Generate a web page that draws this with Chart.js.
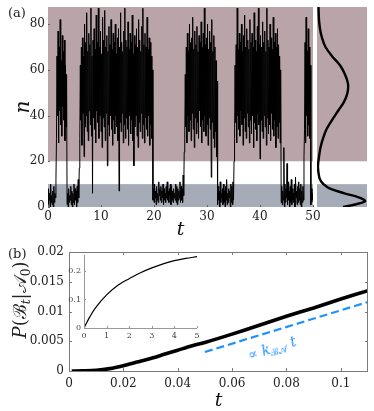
<!DOCTYPE html>
<html>
<head>
<meta charset="utf-8">
<script src="https://cdn.jsdelivr.net/npm/chart.js@4.4.0/dist/chart.umd.min.js"></script>
<style>
  body { margin: 0; background: #fff; }
  #wrap { position: relative; width: 374px; height: 411px; overflow: hidden; font-family: 'DejaVu Serif', serif; color: #222; }
  canvas { position: absolute; }
  .lbl { position: absolute; white-space: nowrap; line-height: 1; }
  .lbl sub { font-size: 0.68em; vertical-align: -0.3em; line-height: 0; }
</style>
</head>
<body>
<div id="wrap">
  <canvas id="trace" width="330" height="240" style="left:0;top:0"></canvas>
  <canvas id="hist" width="50" height="200" style="left:317px;top:7px"></canvas>
  <canvas id="prob" width="374" height="171" style="left:0;top:240px"></canvas>
  <canvas id="inset" width="136" height="95" style="left:68px;top:250px"></canvas>
  <div class="lbl" style="left:8px;top:6px;font-size:13px">(a)</div>
  <div class="lbl" style="left:8px;top:247px;font-size:13px">(b)</div>
  <div class="lbl" style="left:20px;top:300px;font-size:18px;transform:translate(-50%,-50%) rotate(-90deg)"><i>P</i>(ℬ<sub><i>t</i></sub>|𝒜<sub>0</sub>)</div>
  <div class="lbl" style="left:272px;top:348px;font-size:14px;color:#1e90ff;transform:translate(-50%,-50%) rotate(-17deg)">∝ <i>k</i><sub>ℬ𝒜</sub> <i>t</i></div>
</div>
<script>
// ---- panel (a): trajectory n(t), sampled every 0.2 as (low, high) excursions ----
const traceDt = 0.2;
const nLow = [
  1, 3, 0, 2, 1, 0, 2, 4,                                   // A, t 0-1.4
  30, 40, 28, 42, 36, 31, 44, 38, 29, 35,                   // B
  1, 0, 2, 3, 1, 0, 2, 1, 3, 0, 2, 4,                       // A
  30, 38, 27, 41, 22, 35, 40, 33, 29, 42, 36, 31, 6, 39, 34, 28, 42, 37, 30, 40,
  33, 26, 39, 35, 29, 41, 18, 36, 31, 40, 34, 27, 38, 32, 40, 35, 29, 7, 37, 33,
  41, 28, 36, 30, 39, 34, 27, 40, 32, 38, 29, 18, 35, 40, 31, 26, 37, 33, 41, 30,
  36, 28, 39, 34, 31, 40, 27, 36, 30,                       // B, t 6-19.6
  3, 2, 4, 1, 3, 2, 5, 3, 2, 4, 1, 3, 2, 4, 3, 2, 5, 1, 3, 2, 4, 3, 2, 1, 3, 4, 2, 3, 2, 5,
  30, 35, 28, 40, 33, 38, 29, 41, 34, 26, 39, 32, 37, 30, 42, 35, 28, 38, 33, 40,
  31, 36, 27, 39, 34, 13, 37, 30, 26, 33, 22,               // B, t 25.8-31.8
  1, 3, 0, 2, 4, 1, 2, 0, 3, 1, 2, 4, 0, 2, 1, 3,           // A
  30, 37, 28, 40, 34, 31, 42, 36, 27, 39, 33, 30, 41, 35, 28, 38, 32, 40, 26, 37,
  34, 29, 41, 36, 21, 38, 33, 30, 40, 35, 27, 39, 32, 36, 29, 41, 34, 31, 38, 26,
  35, 30, 37, 28,                                           // B, t 35.2-43.8
  2, 1, 3, 0, 2, 4, 1, 3, 0, 2, 1, 3, 2, 0, 4, 1, 2, 3, 1, 0, 2, 3,
  34, 28, 40, 31, 36, 30,
  1, 3, 2
];
const nHigh = [
  8, 6, 10, 5, 7, 9, 6, 12,
  66, 77, 70, 82, 64, 75, 68, 73, 62, 58,
  6, 8, 5, 9, 7, 6, 10, 8, 7, 9, 12, 17,
  62, 70, 74, 66, 80, 72, 85, 68, 76, 71, 87, 66, 73, 78, 69, 84, 72, 87, 70, 77,
  67, 83, 73, 86, 70, 75, 68, 79, 71, 82, 69, 76, 72, 80, 67, 74, 78, 70, 85, 72,
  68, 77, 87, 73, 70, 81, 69, 76, 72, 84, 67, 75, 71, 78, 70, 82, 73, 68, 79, 87,
  71, 76, 70, 83, 69, 74, 72, 66, 60,
  8, 10, 7, 9, 6, 11, 8, 9, 7, 10, 8, 6, 9, 11, 7, 8, 10, 9, 7, 8, 6, 10, 9, 8, 7, 11, 9, 8, 14, 24,
  58, 70, 76, 68, 80, 72, 74, 83, 69, 77, 71, 79, 68, 75, 72, 81, 70, 76, 87, 71,
  74, 80, 69, 77, 72, 82, 68, 75, 70, 64, 55,
  9, 7, 11, 6, 8, 10, 7, 9, 12, 6, 8, 7, 10, 9, 11, 20,
  62, 71, 87, 69, 76, 72, 80, 68, 75, 84, 70, 78, 73, 69, 82, 72, 76, 70, 85, 73,
  68, 79, 87, 71, 75, 70, 81, 72, 77, 68, 87, 73, 70, 80, 74, 69, 83, 72, 76, 70,
  78, 71, 66, 60,
  9, 7, 26, 10, 8, 19, 11, 7, 9, 12, 8, 6, 10, 13, 7, 9, 11, 8, 10, 7, 9, 22,
  72, 83, 68, 78, 70, 62,
  8, 6, 9
];
const traceXTicks = [0, 10, 20, 30, 40, 50];
const traceYTicks = [0, 20, 40, 60, 80];
const nMax = 87.5;
// shaded state regions: A = n in [0,10], B = n in [20, top]
const bandFrom = [0, 20];
const bandTo = [10, nMax];

// stationary distribution of n (side panel), width as fraction of panel
const histN = [0, 1, 2.5, 4, 6, 8, 10, 12, 15, 18, 22, 26, 30, 34, 38, 42, 46, 50, 54, 58, 62, 66, 70, 74, 78, 82, 87.5];
const histP = [0.52, 0.74, 0.96, 0.86, 0.55, 0.26, 0.13, 0.06, 0.03, 0.02, 0.04, 0.07, 0.12, 0.19, 0.30, 0.42, 0.54, 0.61, 0.62, 0.56, 0.46, 0.30, 0.17, 0.10, 0.06, 0.04, 0.03];

// ---- panel (b): P(B_t | A_0) ----
const probT = [0.001, 0.005, 0.01, 0.015, 0.02, 0.025, 0.03, 0.035, 0.04, 0.045, 0.05, 0.06, 0.07, 0.08, 0.09, 0.1, 0.11];
const probP = [0, 0.00002, 0.0001, 0.0004, 0.0009, 0.0015, 0.0021, 0.0028, 0.0035, 0.0042, 0.0048, 0.0062, 0.0077, 0.0092, 0.0106, 0.0121, 0.0135];
const rateT = [0.05, 0.11];
const rateP = [0.0032, 0.0116];
const probXTicks = [0, 0.02, 0.04, 0.06, 0.08, 0.1];
const probYTicks = [0, 0.005, 0.01, 0.015, 0.02];

// inset: long-time behaviour
const insetT = [0, 0.25, 0.5, 1, 1.5, 2, 2.5, 3, 3.5, 4, 4.5, 5];
const insetP = [0, 0.038, 0.07, 0.116, 0.15, 0.173, 0.194, 0.211, 0.225, 0.236, 0.244, 0.25];
const insetXTicks = [0, 1, 2, 3, 4, 5];
const insetYTicks = [0, 0.1, 0.2];

const SERIF = "'DejaVu Serif', serif";
const pink = '#b9a4aa';
const slate = '#a6abb8';

const tracePoints = [];
nLow.forEach((lo, i) => {
    tracePoints.push({ x: i * traceDt, y: lo });
    tracePoints.push({ x: i * traceDt + traceDt / 2, y: nHigh[i] });
});

const stateBands = {
    id: 'stateBands',
    beforeDatasetsDraw(chart) {
        const { ctx, chartArea: a, scales: { y } } = chart;
        const colors = [slate, pink];
        ctx.save();
        bandFrom.forEach((lo, k) => {
            const top = y.getPixelForValue(bandTo[k]);
            const bot = y.getPixelForValue(lo);
            ctx.fillStyle = colors[k];
            ctx.fillRect(a.left, top, a.width, bot - top);
        });
        ctx.restore();
    }
};

// frame + inward tick marks (matlab look)
const axisDecor = {
    id: 'axisDecor',
    afterDraw(chart, args, opts) {
        const { ctx, chartArea: a, scales: { x, y } } = chart;
        const len = opts.len || 3;
        ctx.save();
        ctx.strokeStyle = opts.color || '#777';
        ctx.lineWidth = 1;
        ctx.beginPath();
        if (opts.frame === 'box') {
            ctx.rect(a.left + 0.5, a.top + 0.5, a.width - 1, a.height);
        } else if (opts.frame === 'axes') {
            ctx.moveTo(a.left + 0.5, a.top);
            ctx.lineTo(a.left + 0.5, a.bottom + 0.5);
            ctx.lineTo(a.right, a.bottom + 0.5);
        }
        x.ticks.forEach(t => {
            const px = Math.round(x.getPixelForValue(t.value)) + 0.5;
            ctx.moveTo(px, a.bottom); ctx.lineTo(px, a.bottom - len);
            if (opts.frame === 'box') { ctx.moveTo(px, a.top); ctx.lineTo(px, a.top + len); }
        });
        y.ticks.forEach(t => {
            const py = Math.round(y.getPixelForValue(t.value)) + 0.5;
            ctx.moveTo(a.left, py); ctx.lineTo(a.left + len, py);
            if (opts.frame === 'box') { ctx.moveTo(a.right, py); ctx.lineTo(a.right - len, py); }
        });
        ctx.stroke();
        ctx.restore();
    }
};

function fixedTicks(list) {
    return s => { s.ticks = list.map(v => ({ value: v })); };
}
function fixedSize(dim, px) {
    return s => { s[dim] = px; s.paddingLeft = 0; s.paddingRight = 0; s.paddingTop = 0; s.paddingBottom = 0; };
}
const baseOpts = {
    responsive: false,
    animation: false,
    devicePixelRatio: 1,
    events: [],
};

// panel (a) trajectory
new Chart(document.getElementById('trace'), {
    type: 'line',
    data: { datasets: [{ data: tracePoints, borderColor: '#000', borderWidth: 1, pointRadius: 0, tension: 0 }] },
    options: {
        ...baseOpts,
        layout: { padding: { top: 7, right: 17, left: 0, bottom: 0 } },
        plugins: { legend: { display: false }, tooltip: { enabled: false }, axisDecor: { len: 2, color: '#666' } },
        scales: {
            x: {
                type: 'linear', min: 0, max: 50,
                afterBuildTicks: fixedTicks(traceXTicks),
                afterFit: fixedSize('height', 33),
                grid: { display: false, drawTicks: false }, border: { display: false },
                ticks: { font: { family: SERIF, size: 12 }, color: '#222', padding: 3, maxRotation: 0 },
                title: { display: true, text: 't', color: '#111', font: { family: SERIF, size: 19, style: 'italic', lineHeight: 1 }, padding: 0 }
            },
            y: {
                min: 0, max: nMax,
                afterBuildTicks: fixedTicks(traceYTicks),
                afterFit: fixedSize('width', 48),
                grid: { display: false, drawTicks: false }, border: { display: false },
                ticks: { font: { family: SERIF, size: 12 }, color: '#222', padding: 3 },
                title: { display: true, text: 'n', color: '#111', font: { family: SERIF, size: 20, style: 'italic', lineHeight: 1 }, padding: { top: 14 } }
            }
        }
    },
    plugins: [stateBands, axisDecor]
});

// panel (a) side distribution
new Chart(document.getElementById('hist'), {
    type: 'scatter',
    data: { datasets: [{ data: histN.map((n, i) => ({ x: histP[i], y: n })), showLine: true, borderColor: '#000', borderWidth: 2.4, pointRadius: 0, tension: 0.35 }] },
    options: {
        ...baseOpts,
        layout: { padding: 0 },
        plugins: { legend: { display: false }, tooltip: { enabled: false } },
        scales: {
            x: { type: 'linear', min: 0, max: 1, display: false },
            y: { min: 0, max: nMax, display: false }
        }
    },
    plugins: [stateBands]
});

// panel (b)
new Chart(document.getElementById('prob'), {
    type: 'line',
    data: {
        datasets: [
            { data: probT.map((t, i) => ({ x: t, y: probP[i] })), borderColor: '#000', borderWidth: 3.6, pointRadius: 0, tension: 0.3 },
            { data: rateT.map((t, i) => ({ x: t, y: rateP[i] })), borderColor: '#1e90ff', borderWidth: 2.2, borderDash: [8, 4], pointRadius: 0 }
        ]
    },
    options: {
        ...baseOpts,
        layout: { padding: { top: 12, right: 6, left: 0, bottom: 0 } },
        plugins: { legend: { display: false }, tooltip: { enabled: false }, axisDecor: { frame: 'box', len: 3, color: '#7a7a7a' } },
        scales: {
            x: {
                type: 'linear', min: 0, max: 0.11,
                afterBuildTicks: fixedTicks(probXTicks),
                afterFit: fixedSize('height', 40),
                grid: { display: false, drawTicks: false }, border: { display: false },
                ticks: { font: { family: SERIF, size: 12 }, color: '#222', padding: 6, maxRotation: 0, callback: v => String(v) },
                title: { display: true, text: 't', color: '#111', font: { family: SERIF, size: 19, style: 'italic', lineHeight: 1 }, padding: 0 }
            },
            y: {
                min: 0, max: 0.02,
                afterBuildTicks: fixedTicks(probYTicks),
                afterFit: fixedSize('width', 69),
                grid: { display: false, drawTicks: false }, border: { display: false },
                ticks: { font: { family: SERIF, size: 12 }, color: '#222', padding: 5, callback: v => String(v) }
            }
        }
    },
    plugins: [axisDecor]
});

// inset
new Chart(document.getElementById('inset'), {
    type: 'line',
    data: { datasets: [{ data: insetT.map((t, i) => ({ x: t, y: insetP[i] })), borderColor: '#000', borderWidth: 1.2, pointRadius: 0, tension: 0.35 }] },
    options: {
        ...baseOpts,
        layout: { padding: { top: 5, right: 7, left: 0, bottom: 0 } },
        plugins: { legend: { display: false }, tooltip: { enabled: false }, axisDecor: { frame: 'axes', len: 2, color: '#999' } },
        scales: {
            x: {
                type: 'linear', min: 0, max: 5,
                afterBuildTicks: fixedTicks(insetXTicks),
                afterFit: fixedSize('height', 17),
                grid: { display: false, drawTicks: false }, border: { display: false },
                ticks: { font: { family: SERIF, size: 8 }, color: '#444', padding: 3, maxRotation: 0 }
            },
            y: {
                min: 0, max: 0.256,
                afterBuildTicks: fixedTicks(insetYTicks),
                afterFit: fixedSize('width', 16),
                grid: { display: false, drawTicks: false }, border: { display: false },
                ticks: { font: { family: SERIF, size: 8 }, color: '#444', padding: 3, callback: v => String(v) }
            }
        }
    },
    plugins: [axisDecor]
});
</script>
</body>
</html>
